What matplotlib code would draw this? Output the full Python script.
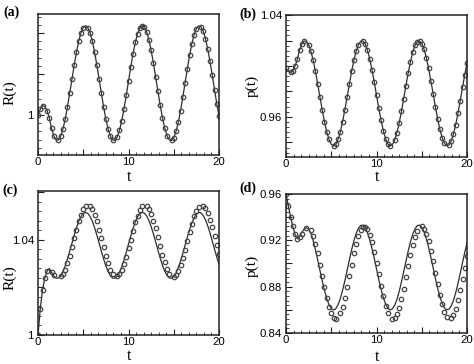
import numpy as np
import matplotlib
matplotlib.use('Agg')
import matplotlib.pyplot as plt
from matplotlib.ticker import MultipleLocator, AutoMinorLocator, FuncFormatter

# time grid shared by all panels
t = np.linspace(0, 20, 81)

# (a) R(t)
R_a = [1.0000, 1.0028, 1.0045, 1.0043, 1.0022, 0.9985, 0.9935, 0.9898, 0.9878, 0.9878,
       0.9896, 0.9931, 0.9979, 1.0039, 1.0106, 1.0175, 1.0244, 1.0307, 1.0361, 1.0402,
       1.0427, 1.0436, 1.0427, 1.0402, 1.0361, 1.0307, 1.0244, 1.0175, 1.0106, 1.0039,
       0.9979, 0.9931, 0.9896, 0.9878, 0.9877, 0.9893, 0.9925, 0.9972, 1.0030, 1.0096,
       1.0166, 1.0235, 1.0299, 1.0354, 1.0397, 1.0425, 1.0436, 1.0429, 1.0406, 1.0367,
       1.0315, 1.0253, 1.0185, 1.0115, 1.0047, 0.9987, 0.9937, 0.9900, 0.9879, 0.9876,
       0.9890, 0.9920, 0.9965, 1.0022, 1.0088, 1.0157, 1.0226, 1.0291, 1.0348, 1.0392,
       1.0422, 1.0435, 1.0431, 1.0410, 1.0373, 1.0322, 1.0262, 1.0194, 1.0124, 1.0056,
       0.9994]

# (b) p(t)
p_b = [0.9982, 0.9962, 0.9950, 0.9962, 1.0000, 1.0052, 1.0124, 1.0172, 1.0196, 1.0194,
       1.0167, 1.0116, 1.0045, 0.9957, 0.9859, 0.9756, 0.9655, 0.9563, 0.9484, 0.9424,
       0.9386, 0.9373, 0.9386, 0.9424, 0.9484, 0.9563, 0.9655, 0.9756, 0.9859, 0.9957,
       1.0045, 1.0116, 1.0167, 1.0194, 1.0196, 1.0172, 1.0124, 1.0055, 0.9970, 0.9873,
       0.9770, 0.9669, 0.9574, 0.9493, 0.9430, 0.9389, 0.9373, 0.9383, 0.9417, 0.9475,
       0.9551, 0.9643, 0.9743, 0.9846, 0.9945, 1.0034, 1.0108, 1.0161, 1.0192, 1.0197,
       1.0176, 1.0132, 1.0066, 0.9982, 0.9886, 0.9784, 0.9682, 0.9586, 0.9503, 0.9437,
       0.9394, 0.9374, 0.9380, 0.9411, 0.9466, 0.9540, 0.9630, 0.9729, 0.9832, 0.9932,
       1.0023]

# (c) R(t): solid line and circles
R_c_line = [1.0000, 1.0110, 1.0190, 1.0238, 1.0268, 1.0280, 1.0263, 1.0247, 1.0239, 1.0239,
            1.0248, 1.0266, 1.0290, 1.0319, 1.0352, 1.0386, 1.0420, 1.0451, 1.0478, 1.0498,
            1.0511, 1.0515, 1.0511, 1.0498, 1.0478, 1.0451, 1.0420, 1.0386, 1.0352, 1.0319,
            1.0290, 1.0266, 1.0248, 1.0239, 1.0239, 1.0247, 1.0263, 1.0286, 1.0315, 1.0347,
            1.0382, 1.0416, 1.0448, 1.0475, 1.0496, 1.0510, 1.0515, 1.0512, 1.0500, 1.0481,
            1.0455, 1.0425, 1.0391, 1.0356, 1.0323, 1.0293, 1.0268, 1.0250, 1.0240, 1.0238,
            1.0245, 1.0260, 1.0283, 1.0311, 1.0343, 1.0377, 1.0411, 1.0443, 1.0471, 1.0493,
            1.0508, 1.0515, 1.0513, 1.0502, 1.0484, 1.0459, 1.0429, 1.0395, 1.0361, 1.0327,
            1.0297]
R_c_sym = [1.0000, 1.0110, 1.0190, 1.0238, 1.0268, 1.0278, 1.0265, 1.0254, 1.0250, 1.0246,
           1.0247, 1.0256, 1.0275, 1.0301, 1.0333, 1.0369, 1.0406, 1.0443, 1.0477, 1.0506,
           1.0528, 1.0541, 1.0546, 1.0541, 1.0528, 1.0506, 1.0477, 1.0443, 1.0406, 1.0369,
           1.0333, 1.0301, 1.0275, 1.0256, 1.0247, 1.0246, 1.0255, 1.0272, 1.0297, 1.0328,
           1.0364, 1.0401, 1.0438, 1.0473, 1.0502, 1.0525, 1.0540, 1.0546, 1.0543, 1.0530,
           1.0509, 1.0481, 1.0448, 1.0411, 1.0374, 1.0338, 1.0305, 1.0278, 1.0258, 1.0247,
           1.0245, 1.0253, 1.0269, 1.0293, 1.0324, 1.0359, 1.0396, 1.0433, 1.0468, 1.0499,
           1.0523, 1.0539, 1.0546, 1.0544, 1.0532, 1.0512, 1.0485, 1.0452, 1.0416, 1.0379,
           1.0342]

# (d) p(t): solid line and circles
p_d_line = [0.9600, 0.9500, 0.9405, 0.9320, 0.9250, 0.9212, 0.9232, 0.9270, 0.9295, 0.9308,
            0.9300, 0.9259, 0.9196, 0.9118, 0.9031, 0.8940, 0.8850, 0.8768, 0.8697, 0.8644,
            0.8610, 0.8599, 0.8610, 0.8644, 0.8697, 0.8768, 0.8850, 0.8940, 0.9031, 0.9118,
            0.9196, 0.9259, 0.9304, 0.9328, 0.9330, 0.9309, 0.9266, 0.9205, 0.9129, 0.9043,
            0.8952, 0.8862, 0.8778, 0.8706, 0.8650, 0.8614, 0.8599, 0.8608, 0.8638, 0.8689,
            0.8757, 0.8839, 0.8928, 0.9019, 0.9107, 0.9186, 0.9252, 0.9299, 0.9326, 0.9331,
            0.9313, 0.9273, 0.9214, 0.9140, 0.9054, 0.8964, 0.8873, 0.8788, 0.8715, 0.8656,
            0.8617, 0.8600, 0.8605, 0.8633, 0.8681, 0.8748, 0.8827, 0.8915, 0.9007, 0.9096,
            0.9177]
p_d_sym = [0.9600, 0.9500, 0.9405, 0.9320, 0.9250, 0.9210, 0.9225, 0.9258, 0.9285, 0.9305,
           0.9310, 0.9290, 0.9240, 0.9171, 0.9086, 0.8991, 0.8892, 0.8794, 0.8704, 0.8627,
           0.8569, 0.8532, 0.8520, 0.8532, 0.8569, 0.8627, 0.8704, 0.8794, 0.8892, 0.8991,
           0.9086, 0.9171, 0.9240, 0.9290, 0.9316, 0.9318, 0.9295, 0.9248, 0.9181, 0.9098,
           0.9004, 0.8905, 0.8807, 0.8715, 0.8637, 0.8576, 0.8536, 0.8520, 0.8529, 0.8563,
           0.8618, 0.8692, 0.8781, 0.8879, 0.8978, 0.9074, 0.9161, 0.9232, 0.9284, 0.9314,
           0.9319, 0.9299, 0.9256, 0.9192, 0.9110, 0.9017, 0.8918, 0.8820, 0.8727, 0.8646,
           0.8582, 0.8540, 0.8521, 0.8527, 0.8557, 0.8610, 0.8682, 0.8769, 0.8865, 0.8965,
           0.9062]

tick_font = 'Liberation Sans'
lab_font = 'Liberation Serif'
line_col = '#2e2e2e'
sym_col = '#444444'


def label_only(values):
    def fmt(v, pos):
        for s in values:
            if abs(v - s) < 1e-6:
                return ('%g' % s)
        return ''
    return FuncFormatter(fmt)


def style_axes(ax, ylim, ymajor, ylabels, ylab, ylab_x, ylab_y, xlab_y):
    ax.set_xlim(0, 20)
    ax.set_ylim(*ylim)
    ax.xaxis.set_major_locator(MultipleLocator(5))
    ax.xaxis.set_minor_locator(AutoMinorLocator(6))
    ax.xaxis.set_major_formatter(label_only([0, 10, 20]))
    ax.yaxis.set_major_locator(MultipleLocator(ymajor))
    ax.yaxis.set_minor_locator(AutoMinorLocator(5))
    ax.yaxis.set_major_formatter(label_only(ylabels))
    ax.tick_params(which='both', direction='in', top=False, right=False,
                   labelsize=8.2, pad=3, color='#222222')
    ax.tick_params(axis='x', which='both', pad=1.5)
    ax.tick_params(which='major', length=4, width=0.8)
    ax.tick_params(which='minor', length=2, width=0.6)
    for lb in ax.get_xticklabels() + ax.get_yticklabels():
        lb.set_fontfamily(tick_font)
    for s in ax.spines.values():
        s.set_linewidth(1.1)
        s.set_color('#222222')
    ax.set_xlabel('t', fontfamily=lab_font, fontsize=11.5)
    # x label placed by its baseline
    ax.xaxis.label.set_va('baseline')
    ax.xaxis.set_label_coords(0.5, xlab_y)
    ax.set_ylabel(ylab, fontfamily=lab_font, fontsize=11)
    ax.yaxis.set_label_coords(ylab_x, ylab_y)


fig = plt.figure(figsize=(4.74, 3.64), dpi=100)

ax_a = fig.add_axes([0.0802, 0.5742, 0.3819, 0.3874])
ax_b = fig.add_axes([0.6034, 0.5687, 0.3819, 0.3900])
ax_c = fig.add_axes([0.0802, 0.0797, 0.3819, 0.3956])
ax_d = fig.add_axes([0.6034, 0.0852, 0.3819, 0.3820])

sym_kw = dict(linestyle='none', marker='o', ms=3.2, mfc='none', mec=sym_col,
              mew=0.9, markevery=0.022)

# (a)
ax_a.plot(t, R_a, color=line_col, lw=0.9)
ax_a.plot(t, R_a, **sym_kw)
style_axes(ax_a, (0.9805, 1.0493), 0.02, [1.0], 'R(t)', -0.12, 0.44, -0.184)

# (b)
ax_b.plot(t, p_b, color=line_col, lw=0.9)
ax_b.plot(t, p_b, **sym_kw)
style_axes(ax_b, (0.9286, 1.0400), 0.02, [0.96, 1.04], 'p(t)', -0.15, 0.5, -0.169)

# (c)
ax_c.plot(t, R_c_line, color=line_col, lw=0.9)
ax_c.plot(t, R_c_sym, **sym_kw)
style_axes(ax_c, (1.0, 1.0605), 0.02, [1.0, 1.04], 'R(t)', -0.12, 0.40, -0.177)

# (d)
ax_d.plot(t, p_d_line, color=line_col, lw=0.9)
ax_d.plot(t, p_d_sym, **sym_kw)
style_axes(ax_d, (0.84, 0.96), 0.02, [0.84, 0.88, 0.92, 0.96], 'p(t)', -0.15, 0.48, -0.198)

# panel tags
for x, y, s in [(0.008, 0.967, '(a)'), (0.506, 0.962, '(b)'),
                (0.006, 0.478, '(c)'), (0.504, 0.483, '(d)')]:
    fig.text(x, y, s, fontfamily=lab_font, fontweight='bold', fontsize=10,
             va='center', ha='left')

fig.savefig('out.png', dpi=100)
